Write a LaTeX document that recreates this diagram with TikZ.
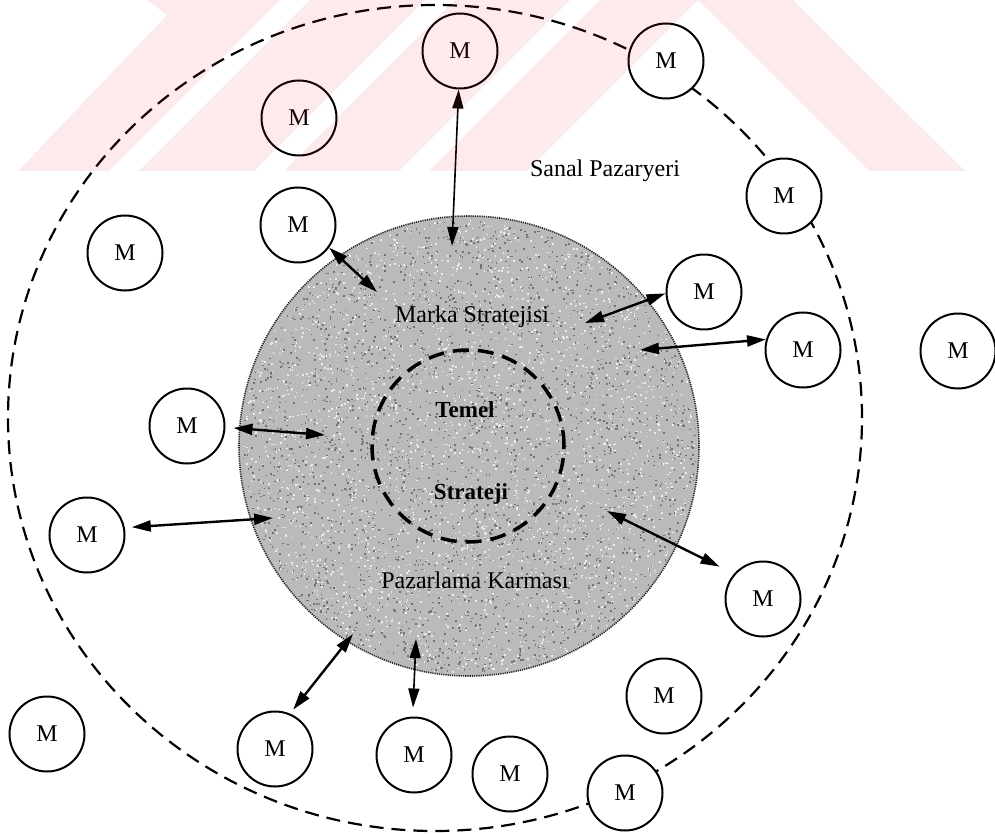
\documentclass[tikz,border=0pt]{standalone}
\usepackage{fontspec}
\setmainfont{Liberation Serif}
\usetikzlibrary{arrows.meta}
\definecolor{wm}{RGB}{225,25,65}
\definecolor{diskgray}{RGB}{186,186,186}
\tikzset{
  mnode/.style={circle, draw=black, line width=2pt, fill=white, minimum size=75pt, inner sep=0pt, font=\fontsize{24}{28}\selectfont},
  lbl/.style={inner sep=0pt, anchor=base, font=\fontsize{24}{28}\selectfont},
  lblb/.style={inner sep=0pt, anchor=base, font=\fontsize{23}{28}\selectfont\bfseries},
  twoway/.style={{Triangle[length=19pt,width=11pt]}-{Triangle[length=19pt,width=11pt]}, line width=2.4pt},
  twowaythin/.style={twoway, line width=1.6pt},
  outerdash/.style={draw=black, line width=2.2pt, dash pattern=on 14pt off 8pt},
  innerdash/.style={draw=black, line width=3.5pt, dash pattern=on 16pt off 9pt},
  diskstyle/.style={fill=diskgray},
  diskedge/.style={draw=black!85, line width=1.6pt, dash pattern=on 1.2pt off 1pt},
  speckdark/.style={fill=black!55},
  specklight/.style={fill=white!92!black},
  wmfill/.style={fill=wm, fill opacity=0.09}
}
\begin{document}
\begin{tikzpicture}[x=1pt, y=-1pt]
\useasboundingbox (0,0) rectangle (995,834);
\fill[white] (0,0) rectangle (995,834);

% outer market place
\draw[outerdash] (435,418) ellipse [x radius=427pt, y radius=413pt];

% grey disk with grain
\path[diskstyle] (469,446) circle [radius=230pt];
\pgfmathsetseed{4711}
\begin{scope}[shift={(469,446)}]
\foreach \k in {1,...,2600}{
  \pgfmathsetmacro{\rr}{227*sqrt(rnd)}
  \pgfmathsetmacro{\tt}{360*rnd}
  \fill[speckdark] (\tt:\rr pt) rectangle ++(1.6,1.6);
  \pgfmathsetmacro{\rs}{227*sqrt(rnd)}
  \pgfmathsetmacro{\ts}{360*rnd}
  \fill[specklight] (\ts:\rs pt) rectangle ++(1.6,1.6);
}
\end{scope}
\draw[diskedge] (469,446) circle [radius=230pt];
% inner core
\draw[innerdash] (468,446) circle [radius=96pt];

% labels
\node[lbl] (sanal) at (605,177) {Sanal Pazaryeri};
\node[lbl] (marka) at (472,322) {Marka Stratejisi};
\node[lblb] (temel) at (465,417) {Temel};
\node[lblb] (strat) at (471,499) {Strateji};
\node[lbl] (pazar) at (475,588) {Pazarlama Karması};

% M nodes
\node[mnode] (m01) at (460,51) {M};
\node[mnode] (m02) at (299,118) {M};
\node[mnode] (m03) at (298,225) {M};
\node[mnode] (m04) at (125,253) {M};
\node[mnode] (m05) at (666,61) {M};
\node[mnode] (m06) at (784,196) {M};
\node[mnode] (m07) at (704,292) {M};
\node[mnode] (m08) at (803,350) {M};
\node[mnode] (m09) at (958,351) {M};
\node[mnode] (m10) at (187,426) {M};
\node[mnode] (m11) at (87,535) {M};
\node[mnode] (m12) at (763,599) {M};
\node[mnode] (m13) at (664,696) {M};
\node[mnode] (m14) at (275,749) {M};
\node[mnode] (m15) at (414,755) {M};
\node[mnode] (m16) at (510,774) {M};
\node[mnode] (m17) at (625,793) {M};
\node[mnode] (m18) at (47,734) {M};

% arrow ends inside the disk
\coordinate (a01) at (452,246);
\coordinate (a02) at (377,292);
\coordinate (a03) at (585,323);
\coordinate (a04) at (640,350);
\coordinate (a05) at (325,435);
\coordinate (a06) at (273,518);
\coordinate (a07) at (607,511);
\coordinate (a08) at (353,634);
\coordinate (a09) at (416,639);

\draw[twowaythin] (m01.-92) -- (a01);
\draw[twoway] (m03.-36) -- (a02);
\draw[twoway] (m07.182) -- (a03);
\draw[twoway] (m08.164) -- (a04);
\draw[twoway, shorten <=8pt] (m10.-2) -- (a05);
\draw[twoway, shorten <=7pt] (m11.11) -- (a06);
\draw[twoway, shorten <=16pt] (m12.139) -- (a07);
\draw[twoway, shorten <=5pt] (m14.67) -- (a08);
\draw[twowaythin, shorten <=9pt] (m15.92) -- (a09);

% watermark
\fill[wmfill] (18,171) -- (167,15) -- (147,0) -- (280,0) -- (109,171) -- cycle;
\fill[wmfill] (310,0) -- (425,0) -- (254,171) -- (139,171) -- cycle;
\fill[wmfill] (455,0) -- (570,0) -- (399,171) -- (284,171) -- cycle;
\fill[wmfill] (600,0) -- (698,0) -- (527,171) -- (429,171) -- cycle;
\fill[wmfill] (698,0) -- (793,0) -- (965,171) -- (869,171) -- cycle;
\end{tikzpicture}
\end{document}
